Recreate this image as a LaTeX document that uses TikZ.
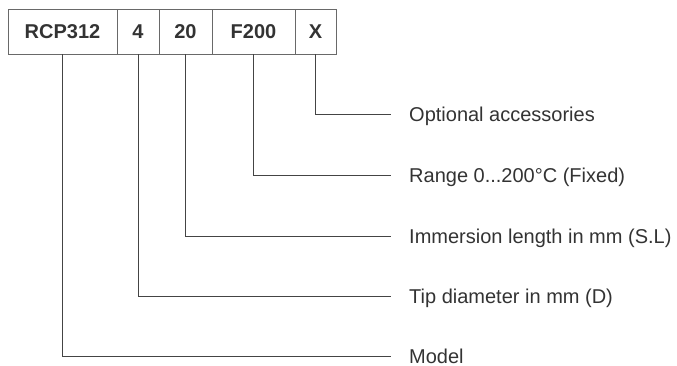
\documentclass[tikz,border=0pt]{standalone}
\usepackage{fontspec}
\setmainfont{Liberation Sans}
\usetikzlibrary{positioning}
\definecolor{ink}{HTML}{333333}
\definecolor{wire}{HTML}{444444}
\tikzset{%
  codebox/.style={draw=wire!80, line width=0.8pt, minimum height=45pt, inner sep=0pt,
                  font=\fontsize{20}{24}\selectfont\bfseries, text=ink},
  legend/.style={anchor=west, inner sep=0pt, text height=14pt, text depth=0pt,
                 font=\fontsize{20}{24}\selectfont, text=ink},
  lead/.style={draw=wire, line width=1pt},
}

\begin{document}
\begin{tikzpicture}[x=1pt, y=-1pt]
    \useasboundingbox (0,0) rectangle (677,365);

    %code boxes
    \node[codebox, minimum width=109pt] (model) at (62.5,31.5) {RCP312};
    \node[codebox, minimum width=42pt]  (tip)   at (138,31.5)  {4};
    \node[codebox, minimum width=53pt]  (len)   at (185.5,31.5) {20};
    \node[codebox, minimum width=83pt]  (range) at (253.5,31.5) {F200};
    \node[codebox, minimum width=41pt]  (opt)   at (315.5,31.5) {X};

    %legends
    \node[legend] (optT)   at (409,114) {Optional accessories};
    \node[legend] (rangeT) at (409,175) {Range 0...200°C (Fixed)};
    \node[legend] (lenT)   at (409,236) {Immersion length in mm (S.L)};
    \node[legend] (tipT)   at (409,296) {Tip diameter in mm (D)};
    \node[legend] (modelT) at (409,356) {Model};

    %leader lines
    \draw[lead] (opt.south)   |- ([xshift=-18pt]optT.west);
    \draw[lead] (range.south) |- ([xshift=-18pt]rangeT.west);
    \draw[lead] (len.south)   |- ([xshift=-18pt]lenT.west);
    \draw[lead] (tip.south)   |- ([xshift=-18pt]tipT.west);
    \draw[lead] (model.south) |- ([xshift=-18pt]modelT.west);

\end{tikzpicture}
\end{document}
